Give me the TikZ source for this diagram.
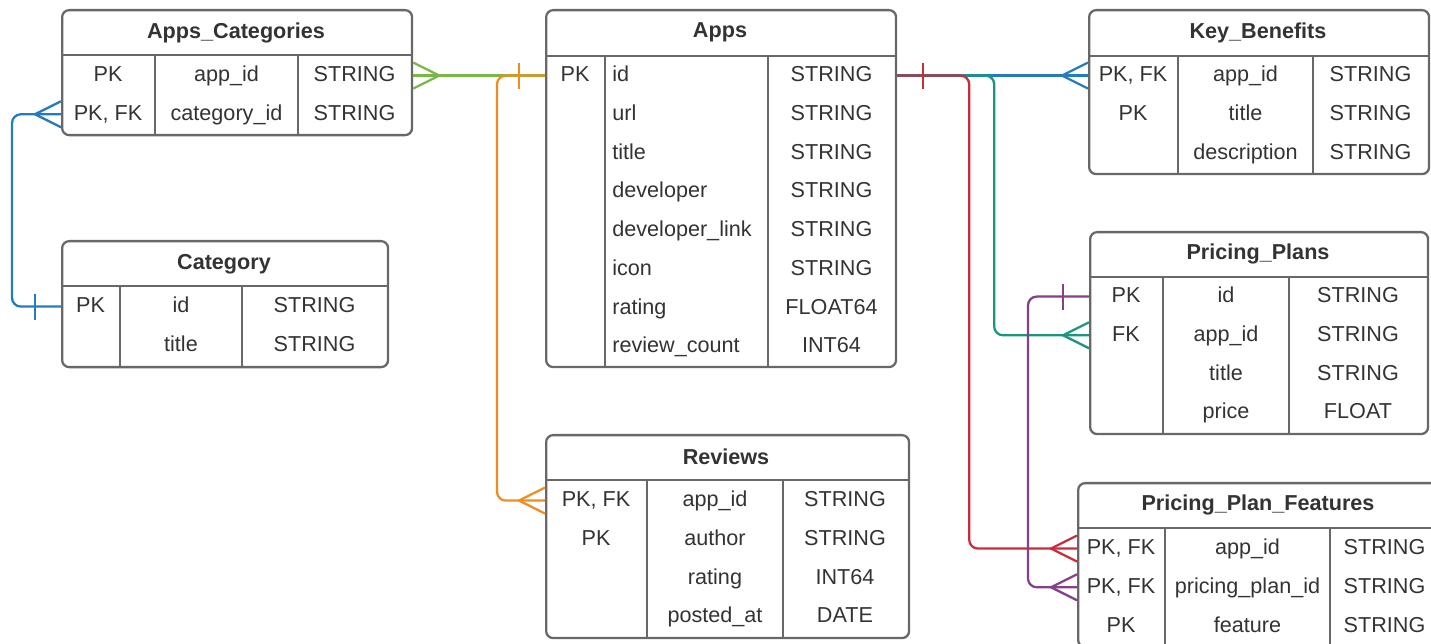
\documentclass[tikz,border=0pt]{standalone}
\usepackage{fontspec}
\setmainfont{Liberation Sans}
\usepackage{xcolor}
\usetikzlibrary{math}
\definecolor{lgray}{RGB}{104,104,104}
\definecolor{ltext}{RGB}{51,51,51}
\definecolor{lblue}{RGB}{36,124,190}
\definecolor{lgreen}{RGB}{122,182,72}
\definecolor{lorange}{RGB}{239,141,34}
\definecolor{lred}{RGB}{201,45,57}
\definecolor{lteal}{RGB}{25,150,125}
\definecolor{lpurple}{RGB}{131,65,135}
\newcommand{\erfont}{\fontsize{12.3}{15}\selectfont}

\begin{document}
\begin{tikzpicture}[x=0.02cm, y=-0.02cm,
  box/.style={draw=lgray, line width=1.3pt, rounded corners=4pt, inner sep=0pt, anchor=north west},
  sep/.style={draw=lgray, line width=1.3pt},
  hd/.style={text=ltext, font=\erfont\bfseries, yshift=-1pt},
  cell/.style={text=ltext, font=\erfont, inner sep=0pt, text height=0.716em, text depth=0pt, yshift=-0.9pt},
  link/.style={line width=1.3pt, rounded corners=5pt},
  crowfoot/.pic={\draw[line width=1.3pt] (0,-13) -- (-26,0) -- (0,13);},
  onebar/.pic={\draw[line width=1.3pt] (-26,-13) -- (-26,13);}]

\tikzmath{
\rh = 38.7;% row height
}

\useasboundingbox (0,0) rectangle (1431,644);
\clip (0,0) rectangle (1431,644);

%apps_categories
\node[box, minimum width=7cm, minimum height=2.5cm] (ac) at (61,9) {};
\draw[sep] (61,55) -- (411,55) (155,55) -- (155,134) (298,55) -- (298,134);
\node[hd] (ac-hd) at (236,31) {Apps\_Categories};
\foreach \k/\f/\t [count=\i] in {PK/app\_id/STRING, {PK, FK}/category\_id/STRING}{
  \node[cell] (ac-k\i) at (108,{74+(\i-1)*\rh}) {\k};
  \node[cell] (ac-f\i) at (226.5,{74+(\i-1)*\rh}) {\f};
  \node[cell] (ac-t\i) at (354.5,{74+(\i-1)*\rh}) {\t};
}

%category
\node[box, minimum width=6.52cm, minimum height=2.52cm] (cat) at (61,240) {};
\draw[sep] (61,286) -- (387,286) (120,286) -- (120,366) (242,286) -- (242,366);
\node[hd] (cat-hd) at (224,262) {Category};
\foreach \k/\f/\t [count=\i] in {PK/id/STRING, {}/title/STRING}{
  \node[cell] (cat-k\i) at (90.5,{305+(\i-1)*\rh}) {\k};
  \node[cell] (cat-f\i) at (181,{305+(\i-1)*\rh}) {\f};
  \node[cell] (cat-t\i) at (314.5,{305+(\i-1)*\rh}) {\t};
}

%apps
\node[box, minimum width=7cm, minimum height=7.14cm] (apps) at (545,9) {};
\draw[sep] (545,56) -- (895,56) (605,56) -- (605,366) (768,56) -- (768,366);
\node[hd] (apps-hd) at (720,31) {Apps};
\foreach \k/\f/\t [count=\i] in {PK/id/STRING, {}/url/STRING, {}/title/STRING,
    {}/developer/STRING, {}/developer\_link/STRING, {}/icon/STRING,
    {}/rating/FLOAT64, {}/review\_count/INT64}{
  \node[cell] (apps-k\i) at (575,{74+(\i-1)*\rh}) {\k};
  \node[cell, anchor=west] (apps-f\i) at (612,{74+(\i-1)*\rh}) {\f};
  \node[cell] (apps-t\i) at (831.5,{74+(\i-1)*\rh}) {\t};
}

%reviews
\node[box, minimum width=7.26cm, minimum height=4.06cm] (rev) at (545,434) {};
\draw[sep] (545,480) -- (908,480) (647,480) -- (647,637) (783,480) -- (783,637);
\node[hd] (rev-hd) at (726,455) {Reviews};
\foreach \k/\f/\t [count=\i] in {{PK, FK}/app\_id/STRING, PK/author/STRING,
    {}/rating/INT64, {}/posted\_at/DATE}{
  \node[cell] (rev-k\i) at (596,{499+(\i-1)*\rh}) {\k};
  \node[cell] (rev-f\i) at (715,{499+(\i-1)*\rh}) {\f};
  \node[cell] (rev-t\i) at (845,{499+(\i-1)*\rh}) {\t};
}

%key_benefits
\node[box, minimum width=6.8cm, minimum height=3.28cm] (kb) at (1088,9) {};
\draw[sep] (1088,56) -- (1428,56) (1178,56) -- (1178,173) (1313,56) -- (1313,173);
\node[hd] (kb-hd) at (1258,31) {Key\_Benefits};
\foreach \k/\f/\t [count=\i] in {{PK, FK}/app\_id/STRING, PK/title/STRING,
    {}/description/STRING}{
  \node[cell] (kb-k\i) at (1133,{74+(\i-1)*\rh}) {\k};
  \node[cell] (kb-f\i) at (1245.5,{74+(\i-1)*\rh}) {\f};
  \node[cell] (kb-t\i) at (1370.5,{74+(\i-1)*\rh}) {\t};
}

%pricing_plans
\node[box, minimum width=6.76cm, minimum height=4.04cm] (pp) at (1089,231) {};
\draw[sep] (1089,277) -- (1427,277) (1163,277) -- (1163,433) (1289,277) -- (1289,433);
\node[hd] (pp-hd) at (1258,252) {Pricing\_Plans};
\foreach \k/\f/\t [count=\i] in {PK/id/STRING, FK/app\_id/STRING,
    {}/title/STRING, {}/price/FLOAT}{
  \node[cell] (pp-k\i) at (1126,{295+(\i-1)*\rh}) {\k};
  \node[cell] (pp-f\i) at (1226,{295+(\i-1)*\rh}) {\f};
  \node[cell] (pp-t\i) at (1358,{295+(\i-1)*\rh}) {\t};
}

%pricing_plan_features
\node[box, minimum width=7.24cm, minimum height=3.28cm] (ppf) at (1077,482) {};
\draw[sep] (1077,528) -- (1439,528) (1165,528) -- (1165,646) (1330,528) -- (1330,646);
\node[hd] (ppf-hd) at (1258,503) {Pricing\_Plan\_Features};
\foreach \k/\f/\t [count=\i] in {{PK, FK}/app\_id/STRING, {PK, FK}/pricing\_plan\_id/STRING,
    PK/feature/STRING}{
  \node[cell] (ppf-k\i) at (1121,{547+(\i-1)*\rh}) {\k};
  \node[cell] (ppf-f\i) at (1247.5,{547+(\i-1)*\rh}) {\f};
  \node[cell] (ppf-t\i) at (1384.5,{547+(\i-1)*\rh}) {\t};
}

%links
\draw[link, lblue] (ac.west |- ac-k2) -- ++(-49,0) |- (cat.west |- cat-k1);
\pic[lblue] at (ac.west |- ac-k2) {crowfoot};
\pic[lblue] at (cat.west |- cat-k1) {onebar};

\draw[link, lgreen] (ac.east |- ac-k1) -- (apps.west |- apps-k1);
\pic[lgreen, xscale=-1] at (ac.east |- ac-k1) {crowfoot};

\draw[link, lorange] (apps.west |- apps-k1) -- ++(-48,0) |- (rev.west |- rev-k1);
\pic[lorange] at (apps.west |- apps-k1) {onebar};
\pic[lorange] at (rev.west |- rev-k1) {crowfoot};

\draw[link, lblue] (apps.east |- apps-k1) -- (kb.west |- kb-k1);
\pic[lblue] at (kb.west |- kb-k1) {crowfoot};

\draw[link, lteal] (apps.east |- apps-k1) -- ++(97,0) |- (pp.west |- pp-k2);
\pic[lteal] at (pp.west |- pp-k2) {crowfoot};

\draw[link, lred] (apps.east |- apps-k1) -- ++(72,0) |- (ppf.west |- ppf-k1);
\pic[lred, xscale=-1] at (apps.east |- apps-k1) {onebar};
\pic[lred] at (ppf.west |- ppf-k1) {crowfoot};

\draw[link, lpurple] (pp.west |- pp-k1) -- ++(-61,0) |- (ppf.west |- ppf-k2);
\pic[lpurple] at (pp.west |- pp-k1) {onebar};
\pic[lpurple] at (ppf.west |- ppf-k2) {crowfoot};

\end{tikzpicture}
\end{document}
